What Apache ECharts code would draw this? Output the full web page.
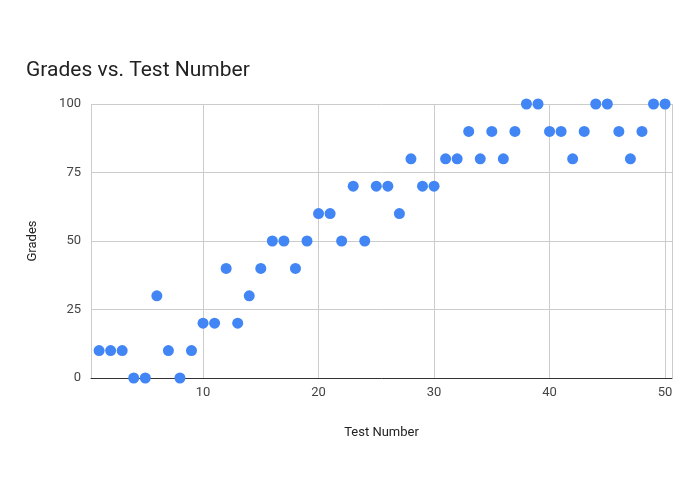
<!DOCTYPE html>
<html><head><meta charset="utf-8">
<script src="https://cdn.jsdelivr.net/npm/echarts@6/dist/echarts.min.js"></script>
<style>html,body{margin:0;background:#fff}#chart{width:695px;height:494px}</style>
</head><body><div id="chart"></div>
<script>
const testNumbers = Array.from({length: 50}, (_, i) => i + 1);
const grades = [10,10,10,0,0,30,10,0,10,20,20,40,20,30,40,50,50,40,50,60,
  60,50,70,50,70,70,60,80,70,70,80,80,90,80,90,80,90,100,100,90,
  90,80,90,100,100,90,80,90,100,100];

const chart = echarts.init(document.getElementById('chart'));
chart.setOption({
  animation: false,
  title: {text: 'Grades vs. Test Number', left: 21, top: 55,
    textStyle: {fontFamily: 'Roboto', fontSize: 21, fontWeight: 'normal', color: '#222'}},
  grid: {left: 91, right: 23, top: 104, bottom: 116},
  xAxis: {
    type: 'value', min: 0.3, max: 50.6, splitNumber: 5,
    name: 'Test Number', nameLocation: 'middle', nameGap: 48,
    nameTextStyle: {fontFamily: 'Roboto', fontSize: 13, color: '#222'},
    axisLine: {lineStyle: {color: '#333'}}, axisTick: {show: false},
    axisLabel: {fontFamily: 'Roboto', fontSize: 13, color: '#444', showMinLabel: false, showMaxLabel: false,
      formatter: v => (v % 10 === 0 ? v : '')},
    splitLine: {lineStyle: {color: '#ccc'}}
  },
  yAxis: {
    type: 'value', min: 0, max: 100, interval: 25,
    name: 'Grades', nameLocation: 'middle', nameGap: 52,
    nameTextStyle: {fontFamily: 'Roboto', fontSize: 13, color: '#222'},
    axisLine: {show: false}, axisTick: {show: false},
    axisLabel: {fontFamily: 'Roboto', fontSize: 13, color: '#444', margin: 10},
    splitLine: {lineStyle: {color: '#ccc'}}
  },
  series: [{
    type: 'scatter', symbolSize: 11,
    itemStyle: {color: '#4285f4', opacity: 1},
    data: testNumbers.map((x, i) => [x, grades[i]])
  }]
});
</script></body></html>
